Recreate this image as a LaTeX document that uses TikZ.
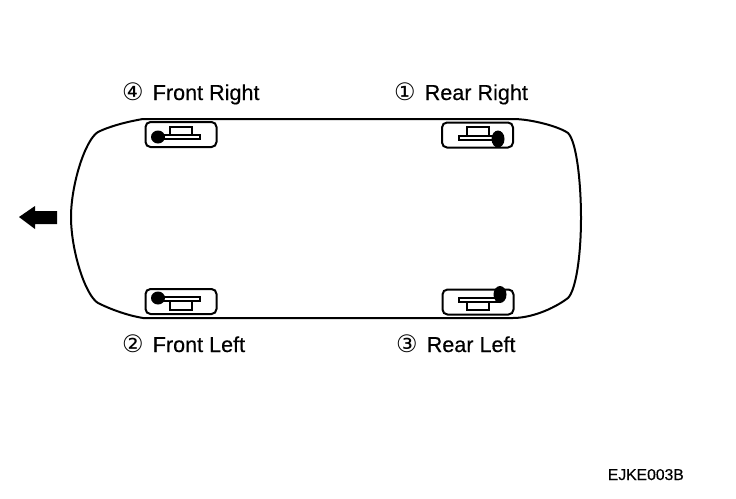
\documentclass[tikz,border=0pt]{standalone}
\usepackage{fontspec}
\setmainfont{Liberation Sans}[FakeBold=0.35]
\newfontfamily\numfont{DejaVu Sans}
\begin{document}
\begin{tikzpicture}[
    x=1pt, y=-1pt,
    lbl/.style={anchor=base west, inner sep=0pt, font=\fontsize{21.6}{24}\selectfont},
    mount/.style={draw, line width=2pt, rounded corners=5pt, inner sep=0pt,
                  minimum width=71pt, minimum height=25pt},
    blob/.style={fill=black},
    clamp/.pic={
        \draw[line width=2pt, fill=white] (-11,-8) rectangle (11,1);
        \draw[line width=2pt, fill=white] (-21,0.5) rectangle (19,4.5);
    }
]
\useasboundingbox (0,0) rectangle (736,498);

% car outline
\draw[line width=2pt] (143,119) .. controls (125,122) and (108,127) .. (98,132)
    .. controls (85,140) and (71,185) .. (71,217)
    .. controls (71,250) and (85,295) .. (98,303)
    .. controls (108,308) and (125,315) .. (143,318)
    -- (513,318) .. controls (530,318) and (552,310) .. (568,298)
    .. controls (576,290) and (581,255) .. (581,218)
    .. controls (581,185) and (577,142) .. (568,133)
    .. controls (558,126) and (530,119) .. (513,119) -- cycle;

% direction of travel
\fill (19,217) -- (35,206) -- (35,211) -- (57,211) -- (57,224) -- (35,224) -- (35,229) -- cycle;

% mounts
\node[mount] (fr) at (181,134.5) {};
\node[mount] (rr) at (477.5,135) {};
\node[mount] (fl) at (181,301.5) {};
\node[mount] (rl) at (478,302)   {};

\pic at (fr) {clamp};
\pic[xscale=-1] at (rr) {clamp};
\pic[yscale=-1] at (fl) {clamp};
\pic[xscale=-1, yscale=-1] at (rl) {clamp};

\fill[blob] (158,137) ellipse (7 and 6.5);
\fill[blob] (498,139) ellipse (6.5 and 8.5);
\fill[blob] (158,298) ellipse (7 and 6.5);
\fill[blob] (500,294.5) ellipse (6.5 and 8.5);

% labels
\node[lbl] (lfr) at (122,100)  {{\numfont\fontsize{24}{24}\selectfont ④}\hspace{9pt}Front Right};
\node[lbl] (lrr) at (394,100)  {{\numfont\fontsize{24}{24}\selectfont ①}\hspace{9pt}Rear Right};
\node[lbl] (lfl) at (122,352) {{\numfont\fontsize{24}{24}\selectfont ②}\hspace{9pt}Front Left};
\node[lbl] (lrl) at (396,352) {{\numfont\fontsize{24}{24}\selectfont ③}\hspace{9pt}Rear Left};
\node[anchor=base east, inner sep=0pt, font=\fontsize{15.7}{18}\selectfont] (code) at (684,480) {EJKE003B};
\end{tikzpicture}
\end{document}
